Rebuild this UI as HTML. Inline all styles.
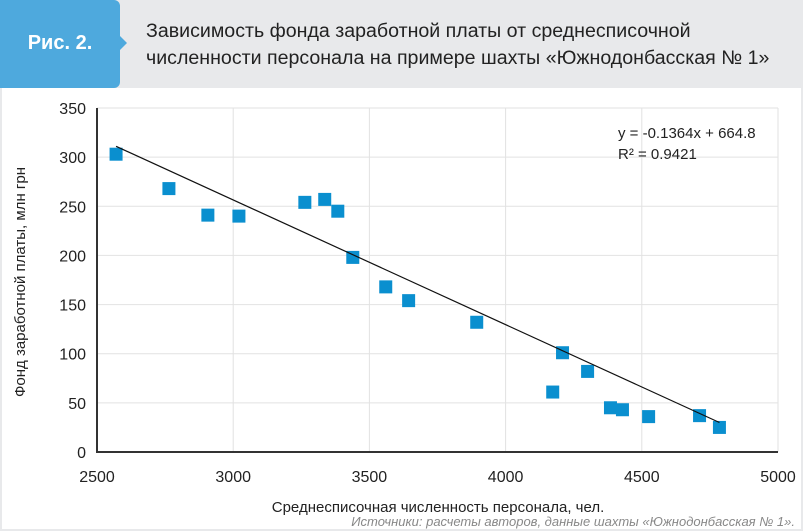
<!DOCTYPE html>
<html><head><meta charset="utf-8"><style>
body{margin:0;width:803px;height:531px;background:#e8e9eb;font-family:"Liberation Sans",sans-serif;overflow:hidden;position:relative}
#tab{position:absolute;left:0;top:0;width:120px;height:88px;background:#4ea9dd;border-radius:0 6px 6px 0}
#tab:after{content:"";position:absolute;right:-7px;top:36px;border-left:7px solid #4ea9dd;border-top:7px solid transparent;border-bottom:7px solid transparent}
#tab span{position:absolute;left:0;right:0;top:32px;text-align:center;color:#fff;font-weight:bold;font-size:20px}
#title{position:absolute;left:146px;top:18px;font-size:19.6px;line-height:27px;color:#222}
#panel{position:absolute;left:2px;top:88px;right:2px;bottom:2px;background:#fff}
</style></head><body>
<div id="tab"><span>Рис. 2.</span></div>
<div id="title">Зависимость фонда заработной платы от среднесписочной<br>численности персонала на примере шахты «Южнодонбасская № 1»</div>
<div id="panel"></div>
<svg id="chart" width="803" height="531" style="position:absolute;left:0;top:0"></svg>
<script>
const xTicks=[2500,3000,3500,4000,4500,5000];
const yTicks=[0,50,100,150,200,250,300,350];
const headcount=[2570,2764,2907,3021,3263,3336,3384,3439,3560,3644,3894,4209,4301,4173,4385,4429,4525,4712,4785];
const wageFund=[303,268,241,240,254,257,245,198,168,154,132,101,82,61,45,43,36,37,25];
const trendX=[2570,4785];
const trendY=[311,30];
const X=v=>97+(v-2500)*(681/2500);
const Y=v=>452-v*(344/350);
const svg=document.getElementById('chart');
const NS='http://www.w3.org/2000/svg';
function mk(t,a,txt){const e=document.createElementNS(NS,t);for(const k in a)e.setAttribute(k,a[k]);if(txt!=null)e.textContent=txt;svg.appendChild(e);return e;}
yTicks.forEach(v=>{
 if(v>0){const g=mk('line',{x1:97,x2:778,y1:Y(v),y2:Y(v),stroke:'#e2e2e2','stroke-width':1});
 
 }
 const t=mk('text',{x:86,y:Y(v)+6,'text-anchor':'end','font-size':16,fill:'#222'},v);
 
 
});
xTicks.forEach(v=>{
 if(v>2500){const g=mk('line',{x1:X(v),x2:X(v),y1:108,y2:452,stroke:'#e2e2e2','stroke-width':1});
 
 }
 const t=mk('text',{x:X(v),y:482,'text-anchor':'middle','font-size':16,fill:'#222'},v);
 
 
});
const ya=mk('line',{x1:97,x2:97,y1:108,y2:452,stroke:'#333','stroke-width':2});


const xa=mk('line',{x1:96,x2:778,y1:452,y2:452,stroke:'#333','stroke-width':2});


headcount.forEach((h,i)=>{
 const r=mk('rect',{x:X(h)-6.5,y:Y(wageFund[i])-6.5,width:13,height:13,fill:'#0a8fcf'});
 
 
});
const tl=mk('line',{x1:X(trendX[0]),y1:Y(trendY[0]),x2:X(trendX[1]),y2:Y(trendY[1]),stroke:'#111','stroke-width':1.2});


const eq=mk('text',{x:618,y:138,'font-size':15,fill:'#222'},'y = -0.1364x + 664.8');


const r2=mk('text',{x:618,y:159,'font-size':15,fill:'#222'},'R² = 0.9421');


const xt=mk('text',{x:438,y:512,'text-anchor':'middle','font-size':15,fill:'#222'},'Среднесписочная  численность персонала, чел.');


const yt=mk('text',{x:0,y:0,'text-anchor':'middle','font-size':15,fill:'#222',transform:'translate(25,282) rotate(-90)'},'Фонд заработной платы, млн грн');


const src=mk('text',{x:795,y:526,'text-anchor':'end','font-size':13,'font-style':'italic',fill:'#888'},'Источники: расчеты авторов, данные шахты «Южнодонбасская № 1».');


</script>
</body></html>
